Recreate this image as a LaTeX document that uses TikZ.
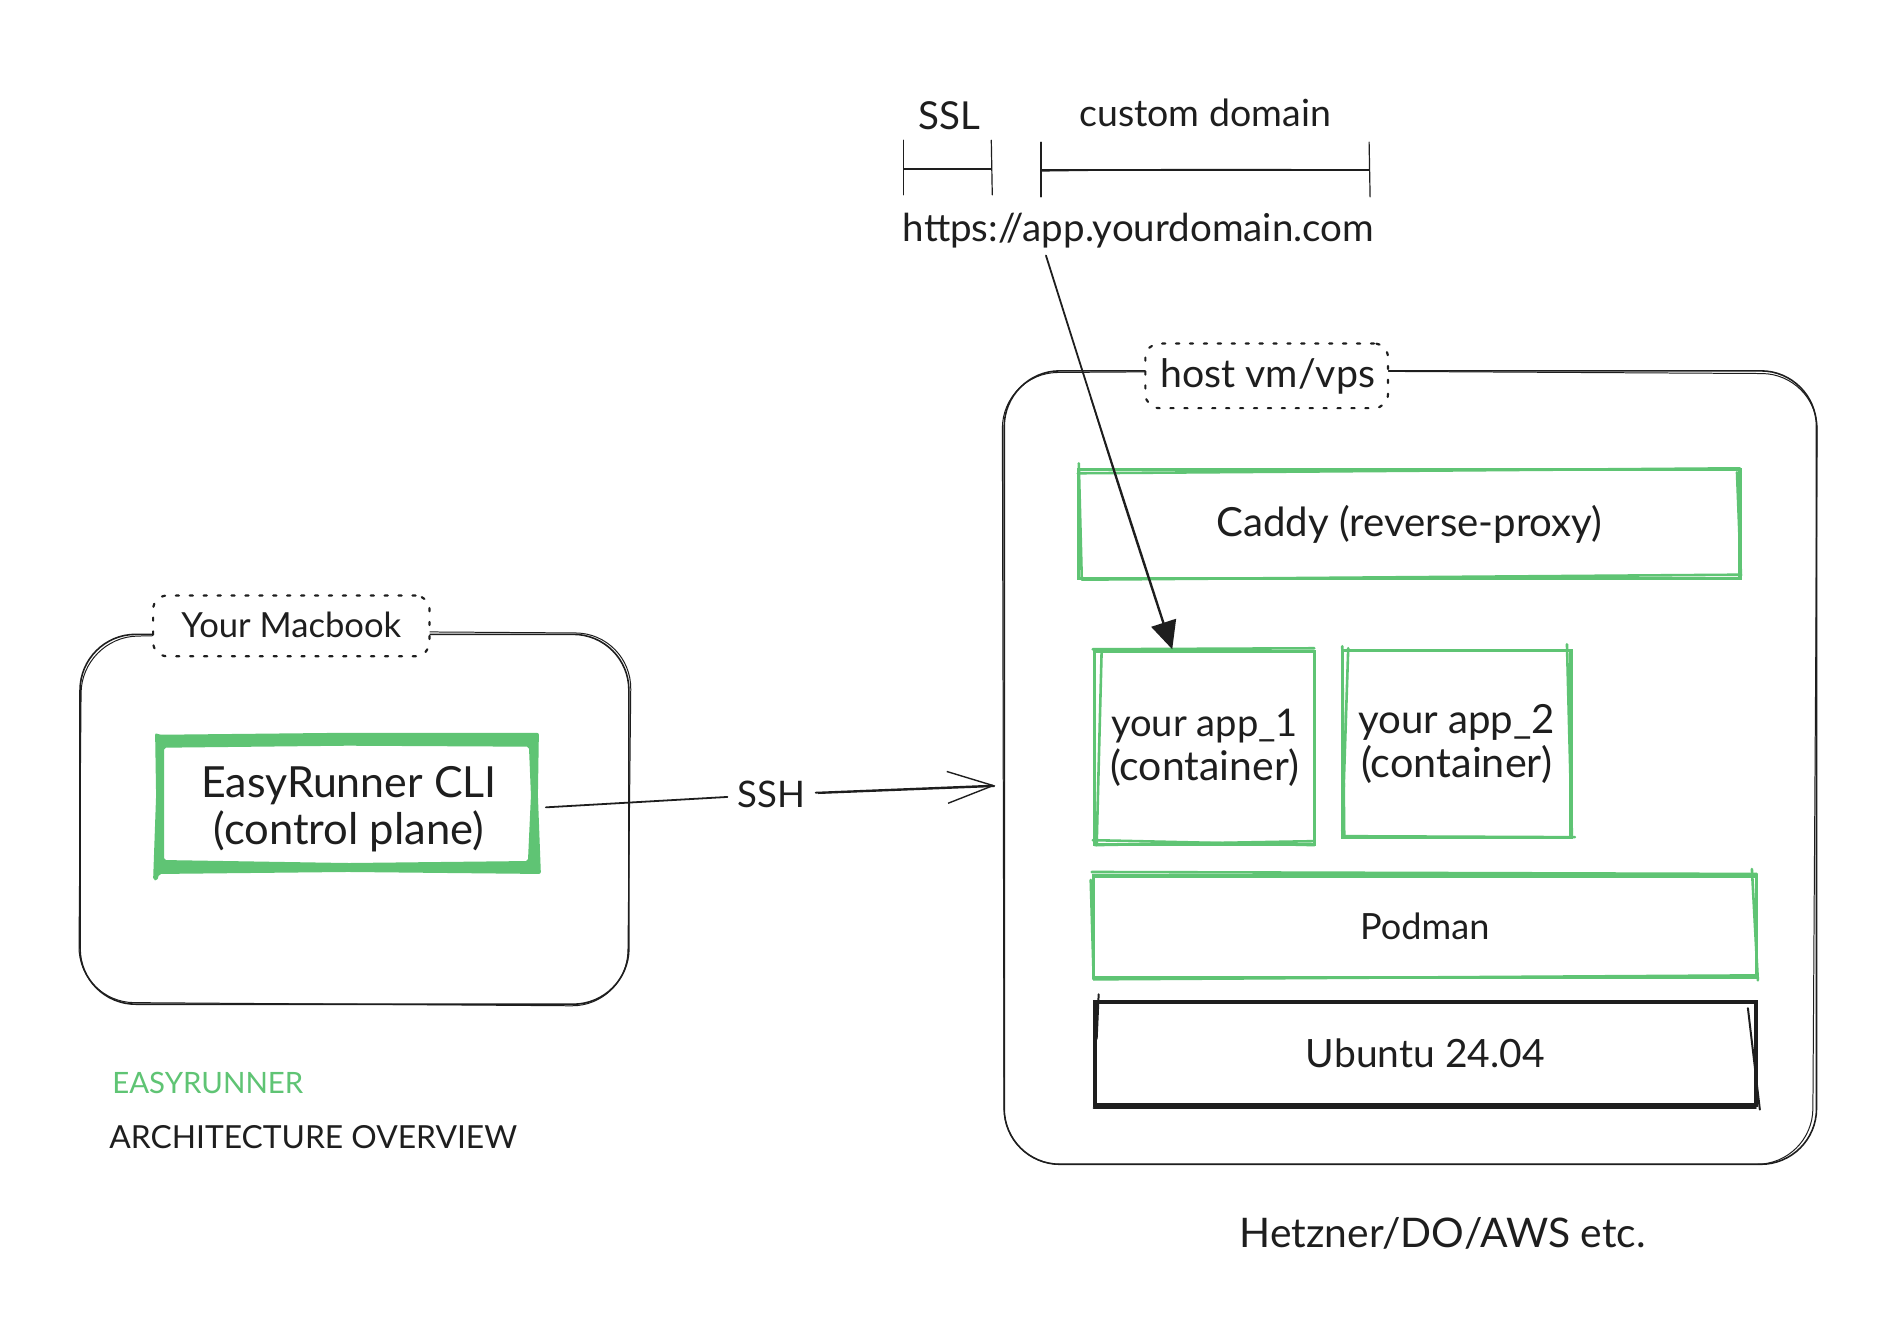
\documentclass[tikz,border=0pt]{standalone}
\usepackage{fontspec}
\usepackage{graphicx}
\setmainfont{Lato}
\usetikzlibrary{arrows.meta}
\definecolor{ink}{HTML}{1E1E1E}
\definecolor{leaf}{HTML}{5FC474}
\newdimen\pxu \pxu=0.5pt
\newcommand\fw[2]{\resizebox{#1\pxu}{!}{#2}}
\tikzset{
  x=0.5pt,y=-0.5pt,
  every node/.style={text=ink,inner sep=0pt},
  hostline/.style={draw=ink,line width=0.8pt,rounded corners=28pt},
  hostsketch/.style={draw=ink,line width=0.5pt,rounded corners=28pt},
  tagbox/.style={draw=ink,fill=white,line width=1.1pt,rounded corners=7pt,line cap=round,dash pattern=on 1.6pt off 5.4pt},
  leafbox/.style={draw=leaf,line width=1.6pt,align=center,font=\fontsize{12}{22}\selectfont},
  leafsk/.style={draw=leaf,line width=1.3pt,line cap=round},
  inkbox/.style={draw=ink,line width=2pt,align=center},
  inksk/.style={draw=ink,line width=1pt,line cap=round},
  conn/.style={draw=ink,line width=0.9pt,line cap=round},
  thin/.style={draw=ink,line width=0.6pt,line cap=round},
  plain/.style={inner sep=5pt},
  textnudge/.style={yshift=-1.4pt},
}
\begin{document}
\begin{tikzpicture}
\useasboundingbox (0,0) rectangle (1915,1327.6);
\fill[white] (0,0) rectangle (1915,1327.6);

% --- Macbook group
\node[hostline,minimum width=276pt,minimum height=186pt] (mac) at (356.5,824) {};
\draw[hostsketch] (350,635) -- (635,637) -- (631,1012) -- (79,1008) -- (82,641) -- cycle;
\node[tagbox,minimum width=139pt,minimum height=30.5pt] (mactag) at (293,629.5) {};
\node (mactagtext) at (293,628) {\fw{221}{Your Macbook}};

% --- CLI box
\fill[leaf,even odd rule,rounded corners=1pt]
  (156,737) -- (160,739) -- (350,737) -- (542,737) -- (541,800) -- (544,879) -- (350,877) -- (160,879) -- (158,886) -- (154,885) -- (157,800) -- cycle
  (165,752) -- (350,750) -- (532,751) -- (534,800) -- (531,866) -- (350,868) -- (165,865) -- (165,800) -- cycle;
\node[align=center,minimum width=193pt,minimum height=70pt,font=\fontsize{12}{24}\selectfont] (cli) at (351,814)
  {\fw{297}{EasyRunner CLI}\\\fw{272}{(control plane)}};

% --- Host group
\node[hostline,minimum width=408.5pt,minimum height=399pt] (host) at (1418.5,772) {};
\draw[hostsketch] (1300,373) -- (1828,376) -- (1823,1171) -- (1010,1171) -- (1008,375) -- cycle;
\node[tagbox,minimum width=122pt,minimum height=32.5pt] (hosttag) at (1274,378) {};
\node (hosttagtext) at (1275,378.5) {\fw{216}{host vm/vps}};

% --- Caddy
\node[leafbox,minimum width=332.5pt,minimum height=54.5pt] (caddy) at (1417.5,527) {\textcolor{ink}{\raisebox{-1.5pt}{\fw{388}{Caddy (reverse-proxy)}}}};
\draw[leafsk] (1084,476) -- (1750,471);
\draw[leafsk] (1085,466) -- (1088,582);
\draw[leafsk] (1088,583) -- (1751,578);
\draw[leafsk] (1747,475) -- (1751,579);

% --- Apps
\node[leafbox,minimum width=110.5pt,minimum height=97pt] (appa) at (1211.5,752) {\raisebox{-1.2pt}{\fw{188}{your app\_1}}\\\raisebox{-1.2pt}{\fw{190}{(container)}}};
\draw[leafsk] (1099,653) -- (1322,652);
\draw[leafsk] (1108,654) -- (1103,850);
\draw[leafsk] (1101,850) -- (1322,846);
\draw[leafsk] (1099,845) -- (1322,850);
\node[leafbox,minimum width=115pt,minimum height=94pt] (appb) at (1465,748) {\raisebox{-1.2pt}{\fw{198}{your app\_2}}\\\raisebox{-1.2pt}{\fw{192}{(container)}}};
\draw[leafsk] (1350,650) -- (1352,840);
\draw[leafsk] (1356,652) -- (1350,836);
\draw[leafsk] (1350,841) -- (1584,842);
\draw[leafsk] (1576,648) -- (1581,842);

% --- Podman
\node[leafbox,minimum width=333.5pt,minimum height=51pt] (podman) at (1433,932) {\fw{130}{Podman}};
\draw[leafsk] (1098,877) -- (1767,879);
\draw[leafsk] (1097,885) -- (1100,985);
\draw[leafsk] (1100,985) -- (1767,981);
\draw[leafsk] (1762,874) -- (1768,986);

% --- Ubuntu
\node[inkbox,minimum width=332.5pt,minimum height=51.5pt] (ubuntu) at (1433.5,1059.5) {\fw{240}{Ubuntu 24.04}};
\draw[inksk] (1105,1000) -- (1103,1045);
\draw[inksk] (1100,1114) -- (1766,1114);
\draw[inksk] (1758,1014) -- (1770,1116);

% --- Captions
\node (brand) at (209,1089) {\fw{192}{\textcolor{leaf}{EASYRUNNER}}};
\node (arch) at (315,1144) {\fw{410}{ARCHITECTURE OVERVIEW}};
\node (cloud) at (1451,1241) {\fw{408}{Hetzner/DO/AWS etc.}};

% --- URL and brackets
\node (ssl) at (955,116) {\fw{62}{SSL}};
\node (domain) at (1212,113) {\fw{253}{custom domain}};
\node (url) at (1145,232) {\fw{474}{https://app.yourdomain.com}};
\draw[thin] (909,141) -- (909,196);
\draw[thin] (997,141) -- (998,196);
\draw[thin] (909,170) -- (997,170);
\draw[thin] (1047,143) -- (1047,198);
\draw[thin] (1377,143) -- (1378,198);
\draw[thin] (1047,171) -- (1377,171);
\draw[thin] (1047,172) .. controls (1200,170) .. (1377,171);

% --- Connectors
\coordinate (urlout) at (1052,257);
\coordinate (appin) at (1179,653);
\draw[conn,-{Triangle[length=14pt,width=13pt]}] (urlout) .. controls (1105,425) .. (appin);
\draw[thin] (1097,400) .. controls (1125,490) .. (1170,628);

\node[plain] (ssh) at (776,799) {\fw{68}{SSH}};
\coordinate (cliout) at (549,812);
\coordinate (hostin) at (1001,790);
\draw[conn] (cliout) -- (ssh);
\draw[conn,-{Straight Barb[length=23pt,width=16pt,line width=0.7pt]}] (ssh) -- (hostin);
\draw[thin] (823,798) -- (1000,791);
\end{tikzpicture}
\end{document}
